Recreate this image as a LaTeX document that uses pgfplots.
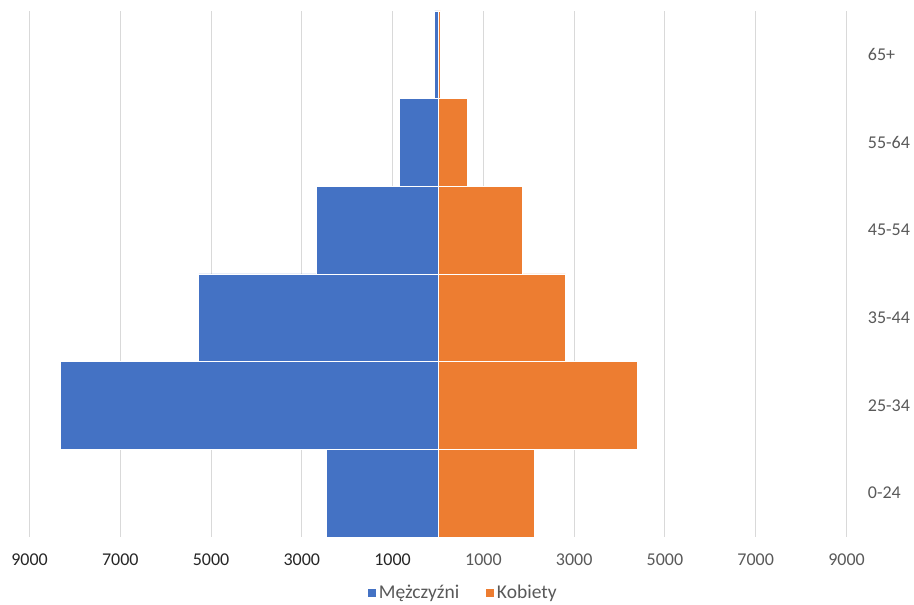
\documentclass[border=0pt]{standalone}
\usepackage{fontspec}
\setmainfont{Carlito}
\usepackage{pgfplots}
\pgfplotsset{compat=1.18}
\definecolor{men}{HTML}{4472C4}
\definecolor{women}{HTML}{ED7D31}
\definecolor{gridc}{HTML}{D9D9D9}
\definecolor{labc}{HTML}{595959}
\definecolor{labd}{HTML}{262626}
\begin{document}
\begin{tikzpicture}
\path[use as bounding box] (-29.5pt,-68pt) rectangle (884.5pt,537pt);
\begin{axis}[
  at={(0pt,0pt)}, anchor=south west,
  scale only axis,
  width=817pt, height=526pt,
  xmin=-9000, xmax=9000,
  ymin=-0.5, ymax=5.5,
  xbar, bar width=1, bar shift=0,
  axis line style={draw=none},
  tick style={draw=none},
  xmajorgrids, ymajorgrids=false,
  grid style={color=gridc, line width=1pt},
  xtick={-9000,-7000,-5000,-3000,-1000,1000,3000,5000,7000,9000},
  xticklabels={\textcolor{labd}{9000},\textcolor{labd}{7000},\textcolor{labd}{5000},\textcolor{labd}{3000},\textcolor{labd}{1000},1000,3000,5000,7000,9000},
  xticklabel style={anchor=center, yshift=-23pt, font=\fontsize{18}{21}\selectfont, text=labc},
  ytick={0,1,2,3,4,5},
  yticklabels={0-24,25-34,35-44,45-54,55-64,65+},
  yticklabel pos=right,
  yticklabel style={anchor=west, inner sep=0pt, xshift=17pt, font=\fontsize{18}{21}\selectfont, text=labc},
  legend style={at={(0.5306,-0.106)}, anchor=center, draw=none, fill=none,
    font=\fontsize{19.5}{22}\selectfont, text=labc,
    legend columns=2,
    /tikz/every even column/.append style={column sep=23pt},
    nodes={inner sep=2.5pt}},
  legend image code/.code={\fill[#1] (0pt,-5pt) rectangle (9pt,4.5pt);},
]
\addplot[fill=men, draw=white, line width=0.7pt] coordinates {
  (-2458,0) (-8317,1) (-5271,2) (-2672,3) (-844,4) (-75,5)
};
\addlegendentry{Mężczyźni}
\addplot[fill=women, draw=white, line width=0.7pt] coordinates {
  (2130,0) (4399,1) (2806,2) (1859,3) (654,4) (55,5)
};
\addlegendentry{Kobiety}
\end{axis}
\end{tikzpicture}
\end{document}
